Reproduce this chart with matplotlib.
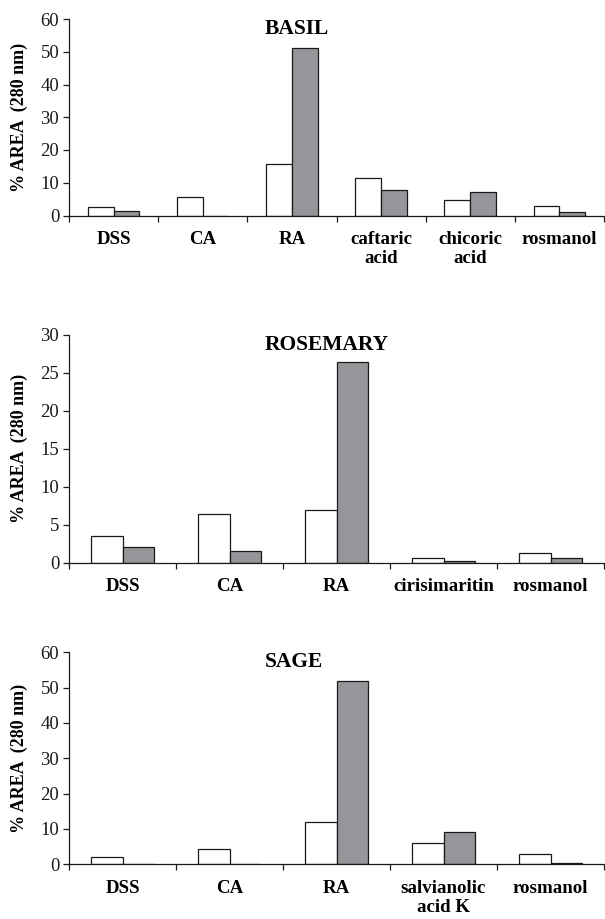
import matplotlib
matplotlib.use("Agg")
import matplotlib.pyplot as plt
import numpy as np

plt.rcParams['font.family'] = ['Liberation Serif', 'DejaVu Serif']

# % area at 280 nm, first (white) and second (grey) series for each herb
basil_labels = ['DSS', 'CA', 'RA', 'caftaric\nacid', 'chicoric\nacid', 'rosmanol']
basil_white = [2.5, 5.7, 15.8, 11.4, 4.8, 3.0]
basil_grey = [1.4, 0.0, 51.0, 7.8, 7.3, 1.0]

rosemary_labels = ['DSS', 'CA', 'RA', 'cirisimaritin', 'rosmanol']
rosemary_white = [3.5, 6.45, 7.0, 0.6, 1.3]
rosemary_grey = [2.05, 1.5, 26.4, 0.25, 0.6]

sage_labels = ['DSS', 'CA', 'RA', 'salvianolic\nacid K', 'rosmanol']
sage_white = [2.1, 4.4, 12.0, 6.0, 2.8]
sage_grey = [0.0, 0.0, 51.9, 9.2, 0.5]

W, H = 605, 919
fig = plt.figure(figsize=(W / 100, H / 100), dpi=100)

# (title, labels, white, grey, ymax, ystep, top px, bottom px)
paneles = [
    ('BASIL', basil_labels, basil_white, basil_grey, 60, 10, 19, 215.5),
    ('ROSEMARY', rosemary_labels, rosemary_white, rosemary_grey, 30, 5, 334.7, 562.7),
    ('SAGE', sage_labels, sage_white, sage_grey, 60, 10, 652.3, 864.3),
]

izq, der = 69, 604
ancho = 0.29
gris = '#96969a'
borde = '#1a1a1a'

for titulo, etiquetas, blancos, grises, ymax, paso, top, bottom in paneles:
    ax = fig.add_axes([izq / W, 1 - bottom / H, (der - izq) / W, (bottom - top) / H])
    n = len(etiquetas)
    x = np.arange(n) + 0.5
    ax.bar(x - ancho / 2, blancos, ancho, color='white', edgecolor=borde, linewidth=0.9)
    ax.bar(x + ancho / 2, grises, ancho, color=gris, edgecolor=borde, linewidth=0.9)

    ax.set_xlim(0, n)
    ax.set_ylim(0, ymax)
    ax.set_yticks(np.arange(0, ymax + 1, paso))
    ax.tick_params(axis='y', labelsize=13.5, length=4, width=0.9, pad=3, colors=borde)

    # tick marks at category boundaries, labels at category centres
    ax.set_xticks(np.arange(n + 1))
    ax.set_xticklabels([])
    ax.tick_params(axis='x', which='major', length=4, width=0.9, direction='out', colors=borde)
    ax.set_xticks(x, minor=True)
    ax.set_xticklabels(etiquetas, minor=True, fontweight='bold', fontsize=13.6)
    ax.tick_params(axis='x', which='minor', length=0, pad=11)

    for lado in ['top', 'right']:
        ax.spines[lado].set_visible(False)
    for lado in ['left', 'bottom']:
        ax.spines[lado].set_linewidth(0.9)
        ax.spines[lado].set_color(borde)

    ax.set_ylabel('% AREA  (280 nm)', fontweight='bold', fontsize=13)
    ax.yaxis.set_label_coords(-(izq - 28) / (der - izq), 0.5)

    ax.text((265 - izq) / (der - izq), 1.0, titulo, transform=ax.transAxes,
            ha='left', va='top', fontsize=15.5, fontweight='bold')

fig.savefig('out.png', dpi=100)
